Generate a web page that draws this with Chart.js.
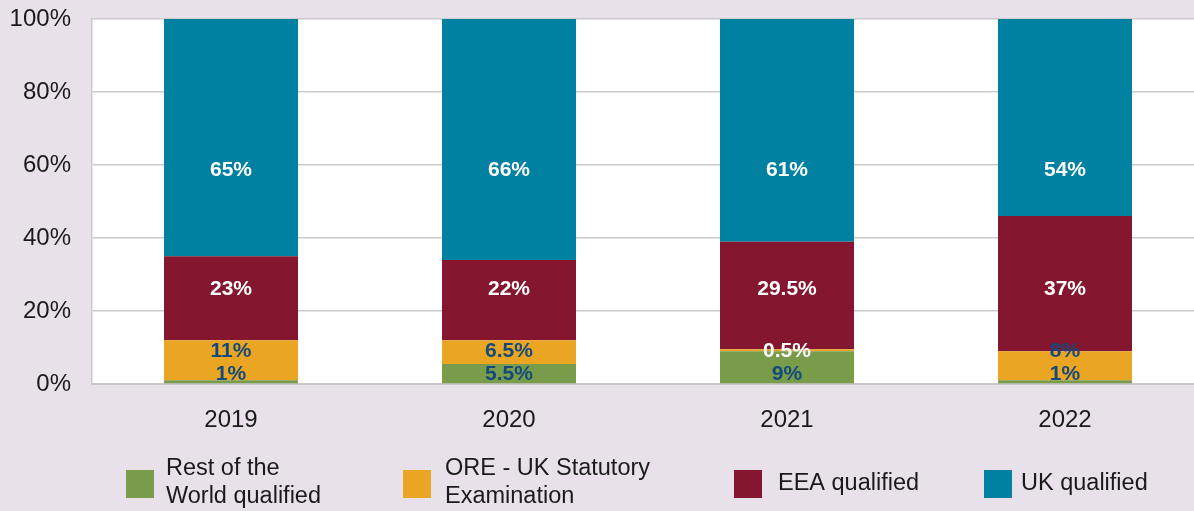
<!DOCTYPE html>
<html lang="en">
<head>
  <meta charset="UTF-8" />
  <title>Qualification routes</title>
  <script src="https://cdn.jsdelivr.net/npm/chart.js"></script>
  <style>
    html, body { margin: 0; padding: 0; background: #e8e1e9; overflow: hidden; }
    #wrap { width: 1204px; height: 511px; }
  </style>
</head>
<body>
  <div id="wrap"><canvas id="qualChart" width="1204" height="511"></canvas></div>

  <script>
    // data (percentages)
    const years = ['2019', '2020', '2021', '2022'];
    const restOfWorld = [1, 5.5, 9, 1];
    const oreExam = [11, 6.5, 0.5, 8];
    const eeaQualified = [23, 22, 29.5, 37];
    const ukQualified = [65, 66, 61, 54];
    const yTicks = [0, 20, 40, 60, 80, 100];

    // where the value labels sit (in % of the axis), one per series
    const labelLevels = [2.7, 9, 26, 58.6];

    const FONT = '"Liberation Sans", Arial, Helvetica, sans-serif';
    const DARK_BLUE = '#134a7c';

    // legend spots (pixels)
    const legendItems = [
      { lines: ['Rest of the', 'World qualified'], box: 126, text: 166 },
      { lines: ['ORE - UK Statutory', 'Examination'], box: 403, text: 445 },
      { lines: ['EEA qualified'], box: 734, text: 778 },
      { lines: ['UK qualified'], box: 984, text: 1021 }
    ];

    const bgPlugin = {
      id: 'plotBg',
      beforeDraw(chart) {
        const { ctx, chartArea: a } = chart;
        ctx.save();
        ctx.fillStyle = '#e8e1e9';
        ctx.fillRect(0, 0, chart.width, chart.height);
        ctx.fillStyle = '#ffffff';
        ctx.fillRect(a.left, a.top, a.right - a.left, a.bottom - a.top);
        ctx.restore();
      }
    };

    const labelPlugin = {
      id: 'barLabels',
      afterDatasetsDraw(chart) {
        const { ctx, scales: { y } } = chart;
        ctx.save();
        ctx.font = 'bold 21px ' + FONT;
        ctx.textAlign = 'center';
        ctx.textBaseline = 'middle';
        chart.data.datasets.forEach((ds, i) => {
          const meta = chart.getDatasetMeta(i);
          meta.data.forEach((bar, j) => {
            let col = i >= 2 ? '#ffffff' : DARK_BLUE;
            if (i === 1 && ds.data[j] < 1) col = '#ffffff';
            ctx.fillStyle = col;
            ctx.fillText(ds.data[j] + '%', bar.x, y.getPixelForValue(labelLevels[i]));
          });
        });
        ctx.restore();
      }
    };

    const legendPlugin = {
      id: 'bottomLegend',
      afterDraw(chart) {
        const { ctx } = chart;
        ctx.save();
        ctx.font = '23.5px ' + FONT;
        ctx.textBaseline = 'middle';
        ctx.textAlign = 'left';
        legendItems.forEach((it, i) => {
          ctx.fillStyle = chart.data.datasets[i].backgroundColor;
          ctx.fillRect(it.box, 470, 28, 28);
          ctx.fillStyle = '#1a1a1a';
          if (it.lines.length === 1) {
            ctx.fillText(it.lines[0], it.text, 484);
          } else {
            ctx.fillText(it.lines[0], it.text, 469);
            ctx.fillText(it.lines[1], it.text, 497);
          }
        });
        ctx.restore();
      }
    };

    const barOpts = { categoryPercentage: 1, barPercentage: 0.482, borderWidth: 0 };

    new Chart(document.getElementById('qualChart'), {
      type: 'bar',
      data: {
        labels: years,
        datasets: [
          { label: 'Rest of the World qualified', data: restOfWorld, backgroundColor: '#789c4a', ...barOpts },
          { label: 'ORE - UK Statutory Examination', data: oreExam, backgroundColor: '#eaa522', ...barOpts },
          { label: 'EEA qualified', data: eeaQualified, backgroundColor: '#84162f', ...barOpts },
          { label: 'UK qualified', data: ukQualified, backgroundColor: '#0081a1', ...barOpts }
        ]
      },
      options: {
        responsive: false,
        animation: false,
        layout: { padding: { top: 19, right: 0, left: 0, bottom: 0 } },
        plugins: {
          legend: { display: false },
          tooltip: { enabled: false }
        },
        scales: {
          x: {
            stacked: true,
            grid: { display: false, drawTicks: false },
            border: { display: true, color: '#c8c6c8', width: 2 },
            ticks: { color: '#1a1a1a', font: { family: FONT, size: 24 }, padding: 22 },
            afterFit(scale) { scale.height = 127; }
          },
          y: {
            stacked: true,
            min: 0,
            max: 100,
            afterBuildTicks(scale) { scale.ticks = yTicks.map(v => ({ value: v })); },
            grid: { color: '#cccacc', lineWidth: 1.5, drawTicks: false },
            border: { display: true, color: '#cccacc', width: 1.5 },
            ticks: {
              color: '#1a1a1a',
              font: { family: FONT, size: 24 },
              padding: 21,
              callback: v => v + '%'
            },
            afterFit(scale) {
              scale.width = 92;
              scale.paddingTop = 0;
              scale.paddingBottom = 0;
            }
          }
        }
      },
      plugins: [bgPlugin, labelPlugin, legendPlugin]
    });
  </script>
</body>
</html>
